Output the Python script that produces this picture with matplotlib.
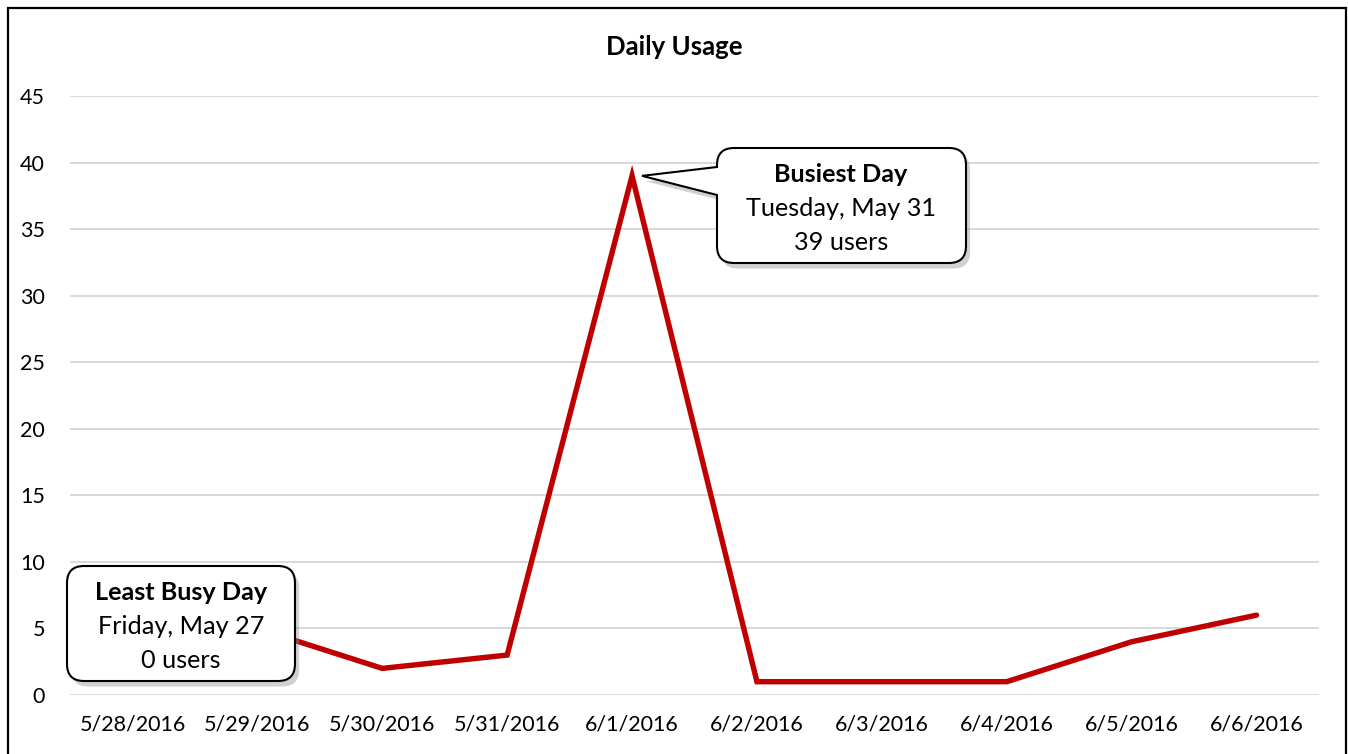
import matplotlib
matplotlib.use("Agg")
import matplotlib.pyplot as plt
import numpy as np
from matplotlib.path import Path
from matplotlib.patches import PathPatch, Rectangle
from matplotlib.transforms import IdentityTransform
import matplotlib.patheffects as pe

plt.rcParams['font.family'] = ['Lato', 'DejaVu Sans']

dates = ["5/28/2016", "5/29/2016", "5/30/2016", "5/31/2016", "6/1/2016",
         "6/2/2016", "6/3/2016", "6/4/2016", "6/5/2016", "6/6/2016"]
# first point is hidden behind the "Least Busy Day" callout in the reference
users = [np.nan, 5, 2, 3, 39, 1, 1, 1, 4, 6]
yticks = [0, 5, 10, 15, 20, 25, 30, 35, 40, 45]

W, H = 1348, 754
fig = plt.figure(figsize=(W / 100, H / 100), dpi=100)
ax = fig.add_axes([70 / W, 1 - 695 / H, (1319 - 70) / W, (695 - 96) / H])

x = np.arange(len(dates))
ax.plot(x, users, color="#C00000", lw=3.9, solid_capstyle="round",
        solid_joinstyle="miter", zorder=3)

ax.set_xlim(-0.5, len(dates) - 0.5)
ax.set_ylim(0, 45)
ax.set_yticks(yticks)
ax.set_xticks(x)
ax.set_xticklabels(dates)
ax.tick_params(axis="both", length=0, labelsize=15.5, colors="black")
ax.tick_params(axis="y", pad=18)
ax.tick_params(axis="x", pad=14)
ax.grid(axis="y", color="#D9D9D9", lw=1.4, zorder=0)
ax.set_axisbelow(True)
for s in ax.spines.values():
    s.set_visible(False)

fig.text(0.5, 1 - 47 / H, "Daily Usage", ha="center", va="center",
         fontsize=18.5, fontweight="bold")

# outer chart border
fig.add_artist(Rectangle((8, -20), W - 10, H - 8 + 20, transform=IdentityTransform(),
                         fill=False, ec="black", lw=1.6, zorder=10))


def callout(x0, y0, x1, y1, r, wedge=None):
    # image pixel coords (y down) -> display coords
    def d(px, py):
        return (px, H - py)
    verts, codes = [], []

    def mv(p):
        verts.append(d(*p)); codes.append(Path.MOVETO)

    def ln(p):
        verts.append(d(*p)); codes.append(Path.LINETO)

    def cv(c, p):
        verts.append(d(*c)); codes.append(Path.CURVE3)
        verts.append(d(*p)); codes.append(Path.CURVE3)

    mv((x0 + r, y0))
    ln((x1 - r, y0))
    cv((x1, y0), (x1, y0 + r))
    ln((x1, y1 - r))
    cv((x1, y1), (x1 - r, y1))
    ln((x0 + r, y1))
    cv((x0, y1), (x0, y1 - r))
    if wedge is not None:
        wb, tip, wt = wedge
        ln((x0, wb))
        ln(tip)
        ln((x0, wt))
    ln((x0, y0 + r))
    cv((x0, y0), (x0 + r, y0))
    verts.append(d(x0 + r, y0)); codes.append(Path.CLOSEPOLY)
    patch = PathPatch(Path(verts, codes), transform=IdentityTransform(),
                      fc="white", ec="black", lw=1.5, zorder=5)
    patch.set_path_effects([pe.SimplePatchShadow(offset=(3, -4), shadow_rgbFace="#8c8c8c", alpha=0.4),
                            pe.Normal()])
    fig.add_artist(patch)


# busiest day callout, pointing to the peak
peak_i = int(np.nanargmax(users))
tx, ty = ax.transData.transform((x[peak_i], users[peak_i]))
callout(717, 148, 966, 263, 17, wedge=(195, (tx + 10, H - ty), 167))
cx = 841
fs = 18.2
fig.text(cx / W, 1 - 175 / H, "Busiest Day", ha="center", va="center",
         fontsize=fs, fontweight="bold", zorder=6)
fig.text(cx / W, 1 - 209 / H, "Tuesday, May 31", ha="center", va="center",
         fontsize=fs, zorder=6)
fig.text(cx / W, 1 - 243 / H, "39 users", ha="center", va="center",
         fontsize=fs, zorder=6)

# least busy day callout
callout(67, 566, 295, 681, 17)
cx = 181
fig.text(cx / W, 1 - 593 / H, "Least Busy Day", ha="center", va="center",
         fontsize=fs, fontweight="bold", zorder=6)
fig.text(cx / W, 1 - 627 / H, "Friday, May 27", ha="center", va="center",
         fontsize=fs, zorder=6)
fig.text(cx / W, 1 - 660 / H, "0 users", ha="center", va="center",
         fontsize=fs, zorder=6)

fig.savefig("out.png", dpi=100)
